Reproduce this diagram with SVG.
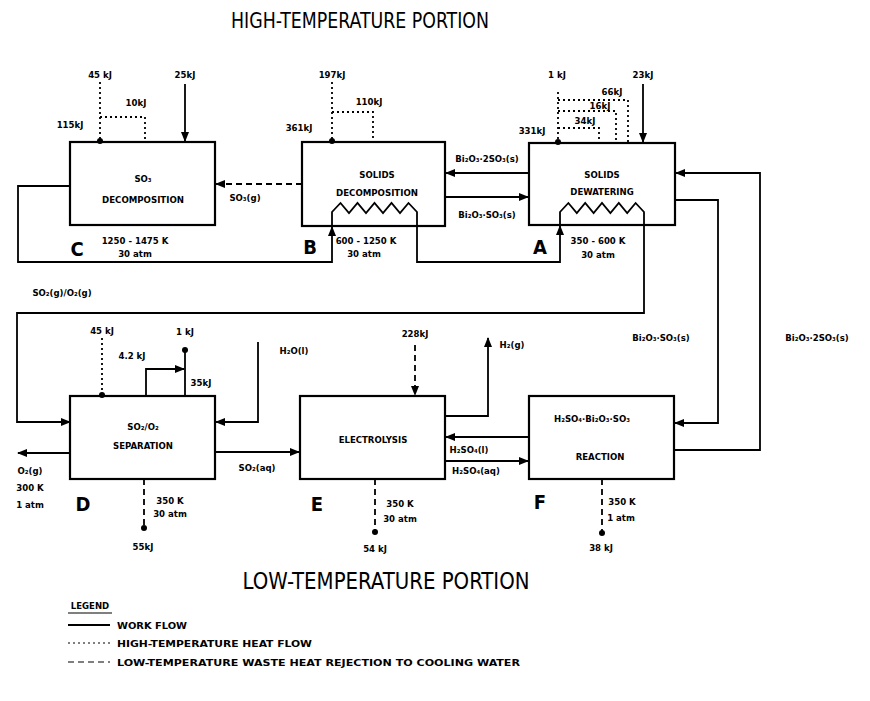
<svg xmlns="http://www.w3.org/2000/svg" width="870" height="701" viewBox="0 0 870 701">
<style>
.box{fill:none;stroke:#000;stroke-width:2.2}
.w{fill:none;stroke:#000;stroke-width:1.8}
.h{fill:none;stroke:#000;stroke-width:1.8;stroke-dasharray:2 3}
.c{fill:none;stroke:#000;stroke-width:1.8;stroke-dasharray:6 4}
text{font-family:"DejaVu Sans Condensed","DejaVu Sans",sans-serif;font-weight:bold;fill:#000;text-anchor:middle}
.s{font-size:9.5px}
.n{font-size:9.5px}
.T{font-family:"DejaVu Sans Condensed","DejaVu Sans",sans-serif;font-weight:normal}
</style>
<defs>
<marker id="a" markerUnits="userSpaceOnUse" markerWidth="10" markerHeight="8" refX="9" refY="4" orient="auto"><path d="M0,0 L10,4 L0,8 Z" fill="#000"/></marker>
<marker id="d" markerUnits="userSpaceOnUse" markerWidth="7" markerHeight="7" refX="3.5" refY="3.5" orient="auto"><circle cx="3.5" cy="3.5" r="3" fill="#000"/></marker>
</defs>

<text class="T" x="360" y="28" font-size="21" textLength="258" lengthAdjust="spacingAndGlyphs">HIGH-TEMPERATURE PORTION</text>
<text class="T" x="386" y="589" font-size="23" textLength="287" lengthAdjust="spacingAndGlyphs">LOW-TEMPERATURE PORTION</text>

<g id="nodeC">
<rect class="box" x="70" y="142" width="145" height="83"/>
<text class="n" x="143" y="182">SO₃</text>
<text class="n" x="143" y="203" textLength="82" lengthAdjust="spacingAndGlyphs">DECOMPOSITION</text>
<text x="77" y="256" font-size="20" font-weight="normal">C</text>
<text class="s" x="135" y="244">1250 - 1475 K</text>
<text class="s" x="135" y="257">30 atm</text>
</g>

<g id="nodeB">
<rect class="box" x="302" y="142" width="143" height="84"/>
<text class="n" x="377" y="178">SOLIDS</text>
<text class="n" x="377" y="196" textLength="82" lengthAdjust="spacingAndGlyphs">DECOMPOSITION</text>
<text x="310" y="254" font-size="20" font-weight="normal">B</text>
<text class="s" x="366" y="244">600 - 1250 K</text>
<text class="s" x="364" y="257">30 atm</text>
</g>

<g id="nodeA">
<rect class="box" x="529" y="143" width="146" height="82"/>
<text class="n" x="602" y="178">SOLIDS</text>
<text class="n" x="602" y="195">DEWATERING</text>
<text x="540" y="254" font-size="20" font-weight="normal">A</text>
<text class="s" x="598" y="244">350 - 600 K</text>
<text class="s" x="598" y="258">30 atm</text>
</g>

<g id="nodeD">
<rect class="box" x="70" y="396" width="145" height="83"/>
<text class="n" x="143" y="430">SO₂/O₂</text>
<text class="n" x="143" y="449">SEPARATION</text>
<text x="83" y="511" font-size="20" font-weight="normal">D</text>
</g>

<g id="nodeE">
<rect class="box" x="300" y="396" width="145" height="83"/>
<text class="n" x="373" y="443">ELECTROLYSIS</text>
<text x="317" y="511" font-size="20" font-weight="normal">E</text>
</g>

<g id="nodeF">
<rect class="box" x="529" y="396" width="145" height="83"/>
<text class="n" x="592" y="422">H₂SO₄·Bi₂O₃·SO₃</text>
<text class="n" x="600" y="460">REACTION</text>
<text x="540" y="509" font-size="20" font-weight="normal">F</text>
</g>

<g id="connectors">
<path class="w" d="M70,186 H18 V262 H332 V212 L340.5,203 L349,213 L357.5,203 L366,213 L374.5,203 L383,213 L391.5,203 L400,213 L408.5,203 L417,212 V262 H560 V212 L568.4,203 L576.8,213 L585.2,203 L593.6,213 L602,203 L610.4,213 L618.8,203 L627.2,213 L635.6,203 L644,212 V313 H17 V422 H70" marker-end="url(#a)"/>
<path d="M332,226 l-4,10 h8 z" fill="#000"/>
<path d="M560,225 l-4,10 h8 z" fill="#000"/>
<text class="s" x="62" y="296">SO₂(g)/O₂(g)</text>

<path class="c" d="M302,184 H216" marker-end="url(#a)"/>
<text class="s" x="245" y="201">SO₃(g)</text>

<path class="w" d="M529,173 H446" marker-end="url(#a)"/>
<path class="w" d="M445,197 H528" marker-end="url(#a)"/>
<text class="s" x="487" y="162">Bi₂O₃·2SO₃(s)</text>
<text class="s" x="487" y="218">Bi₂O₃·SO₃(s)</text>

<path class="w" d="M675,200 H718 V423 H675" marker-end="url(#a)"/>
<path class="w" d="M674,450 H760 V173 H676" marker-end="url(#a)"/>
<text class="s" x="661" y="341">Bi₂O₃·SO₃(s)</text>
<text class="s" x="817" y="341">Bi₂O₃·2SO₃(s)</text>

<path class="h" d="M100,82 V141" marker-end="url(#d)"/>
<path class="h" d="M100,117 H145 V141"/>
<path class="w" d="M185,84 V141" marker-end="url(#a)"/>
<text class="s" x="100" y="78">45 kJ</text>
<text class="s" x="136" y="106">10kJ</text>
<text class="s" x="70" y="128">115kJ</text>
<text class="s" x="185" y="78">25kJ</text>

<path class="h" d="M332,82 V141" marker-end="url(#d)"/>
<path class="h" d="M332,112 H373 V141"/>
<text class="s" x="332" y="78">197kJ</text>
<text class="s" x="369" y="105">110kJ</text>
<text class="s" x="299" y="131">361kJ</text>

<path class="h" d="M558,92 V142" marker-end="url(#d)"/>
<path class="h" d="M558,100 H628 V142"/>
<path class="h" d="M558,111 H616 V142"/>
<path class="h" d="M558,128 H599 V142"/>
<path class="w" d="M643,84 V142" marker-end="url(#a)"/>
<text class="s" x="557" y="78">1 kJ</text>
<text class="s" x="643" y="78">23kJ</text>
<text class="s" x="612" y="95">66kJ</text>
<text class="s" x="600" y="109">16kJ</text>
<text class="s" x="585" y="124">34kJ</text>
<text class="s" x="532" y="134">331kJ</text>

<path class="h" d="M102,338 V395" marker-end="url(#d)"/>
<text class="s" x="102" y="334">45 kJ</text>
<path class="w" d="M185,350 V396" marker-start="url(#d)"/>
<text class="s" x="185" y="335">1 kJ</text>
<path class="w" d="M146,396 V369 H184" marker-end="url(#a)"/>
<text class="s" x="132" y="359">4.2 kJ</text>
<text class="s" x="201" y="386">35kJ</text>
<path class="w" d="M258,342 V422 H216" marker-end="url(#a)"/>
<text class="s" x="294" y="354">H₂O(l)</text>
<path class="w" d="M215,452 H299" marker-end="url(#a)"/>
<text class="s" x="257" y="471">SO₂(aq)</text>
<path class="w" d="M70,453 H18" marker-end="url(#a)"/>
<text class="s" x="30" y="474">O₂(g)</text>
<text class="s" x="30" y="491">300 K</text>
<text class="s" x="30" y="508">1 atm</text>
<path class="c" d="M144,479 V528" marker-end="url(#d)"/>
<text class="s" x="170" y="504">350 K</text>
<text class="s" x="170" y="517">30 atm</text>
<text class="s" x="143" y="550">55kJ</text>

<path class="c" d="M415,345 V395" marker-end="url(#a)"/>
<text class="s" x="415" y="337">228kJ</text>
<path class="w" d="M445,416 H488 V338" marker-end="url(#a)"/>
<text class="s" x="512" y="348">H₂(g)</text>
<path class="w" d="M529,437 H446" marker-end="url(#a)"/>
<path class="w" d="M445,461 H528" marker-end="url(#a)"/>
<text class="s" x="469" y="453">H₂SO₄(l)</text>
<text class="s" x="476" y="474">H₂SO₄(aq)</text>
<path class="c" d="M375,479 V532" marker-end="url(#d)"/>
<text class="s" x="400" y="507">350 K</text>
<text class="s" x="400" y="522">30 atm</text>
<text class="s" x="375" y="552">54 kJ</text>

<path class="c" d="M602,479 V533" marker-end="url(#d)"/>
<text class="s" x="622" y="505">350 K</text>
<text class="s" x="621" y="521">1 atm</text>
<text class="s" x="601" y="551">38 kJ</text>
</g>

<g id="legend">
<text class="s" x="90" y="609" font-size="10">LEGEND</text>
<line x1="68" y1="613" x2="112" y2="613" stroke="#000" stroke-width="1.2"/>
<line class="w" x1="68" y1="625" x2="110" y2="625"/>
<text class="s" x="117" y="629" style="text-anchor:start" textLength="70" lengthAdjust="spacingAndGlyphs">WORK FLOW</text>
<line class="h" x1="68" y1="643" x2="110" y2="643" style="stroke-width:1"/>
<text class="s" x="117" y="647" style="text-anchor:start" textLength="195" lengthAdjust="spacingAndGlyphs">HIGH-TEMPERATURE HEAT FLOW</text>
<line class="c" x1="68" y1="662" x2="110" y2="662" style="stroke-width:1.2"/>
<text class="s" x="117" y="666" style="text-anchor:start" textLength="403" lengthAdjust="spacingAndGlyphs">LOW-TEMPERATURE WASTE HEAT REJECTION TO COOLING WATER</text>
</g>
</svg>
